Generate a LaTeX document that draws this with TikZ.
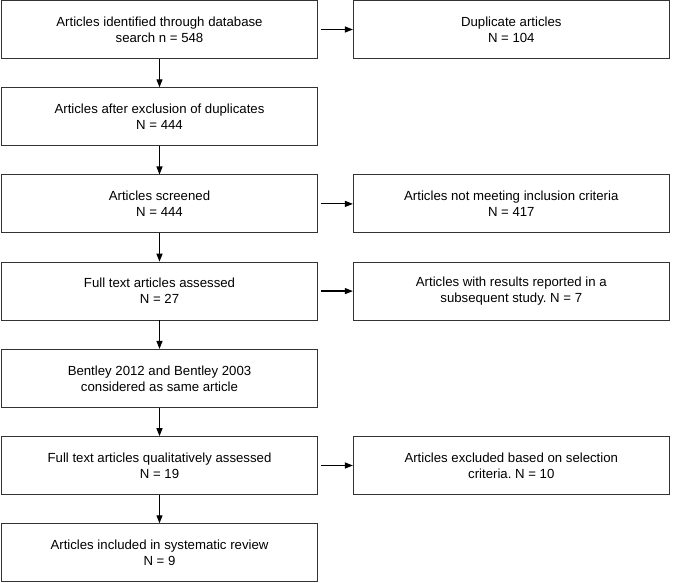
\documentclass[tikz,border=0pt]{standalone}
\usepackage{fontspec}
\setmainfont{Liberation Sans}
\frenchspacing
\usetikzlibrary{arrows.meta,positioning}

\begin{document}
\begin{tikzpicture}[x=1pt,y=1pt,node distance=28.4pt and 35pt,
        box/.style={draw=black!80, line width=0.8pt, minimum width=316pt, minimum height=58pt,
            align=center, font=\fontsize{13.2}{16}\selectfont},
        flow/.style={-{Triangle[length=8pt,width=6pt]}, line width=1.2pt}]
        \useasboundingbox (0,0) rectangle (673,-583);

        % main column
        \node (ident) [box] at (159.5,-29.5) {Articles identified through database\\search n = 548};
        \node (afterdup) [box, below=of ident] {Articles after exclusion of duplicates\\N = 444};
        \node (screen) [box, below=of afterdup] {Articles screened\\N = 444};
        \node (fulltext) [box, below=of screen] {Full text articles assessed\\N = 27};
        \node (bentley) [box, below=of fulltext] {Bentley 2012 and Bentley 2003\\considered as same article};
        \node (quali) [box, below=of bentley] {Full text articles qualitatively assessed\\N = 19};
        \node (incl) [box, below=of quali] {Articles included in systematic review\\N = 9};

        % exclusions
        \node (dup) [box, right=of ident] {Duplicate articles\\N = 104};
        \node (notmeet) [box, right=of screen] {Articles not meeting inclusion criteria\\N = 417};
        \node (subseq) [box, right=of fulltext] {Articles with results reported in a\\subsequent study. N = 7};
        \node (selcrit) [box, right=of quali] {Articles excluded based on selection\\criteria. N = 10};

        \draw[flow] (ident) -- (afterdup);
        \draw[flow] (afterdup) -- (screen);
        \draw[flow] (screen) -- (fulltext);
        \draw[flow] (fulltext) -- (bentley);
        \draw[flow] (bentley) -- (quali);
        \draw[flow] (quali) -- (incl);

        \draw[flow, shorten <=3pt] (ident) -- (dup);
        \draw[flow, shorten <=3pt] (screen) -- (notmeet);
        \draw[flow, shorten <=3pt] (fulltext) -- (subseq);
        \draw[flow, shorten <=3pt] (quali) -- (selcrit);
    \end{tikzpicture}
\end{document}
